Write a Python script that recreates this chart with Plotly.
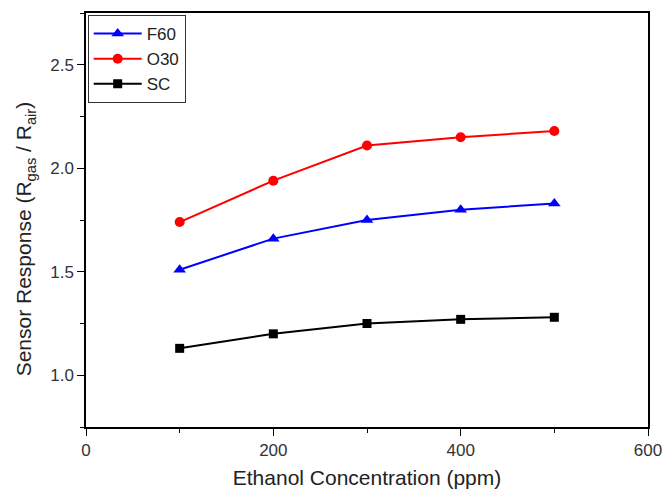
import plotly.graph_objects as go

conc = [100, 200, 300, 400, 500]
f60 = [1.51, 1.66, 1.75, 1.80, 1.83]
o30 = [1.74, 1.94, 2.11, 2.15, 2.18]
sc = [1.13, 1.20, 1.25, 1.27, 1.28]

fig = go.Figure()
fig.add_trace(go.Scatter(x=conc, y=f60, name="F60", mode="lines+markers",
                         line=dict(color="#0000ff", width=2),
                         marker=dict(symbol="triangle-up", size=11, color="#0000ff")))
fig.add_trace(go.Scatter(x=conc, y=o30, name="O30", mode="lines+markers",
                         line=dict(color="#ff0000", width=2),
                         marker=dict(symbol="circle", size=10, color="#ff0000")))
fig.add_trace(go.Scatter(x=conc, y=sc, name="SC", mode="lines+markers",
                         line=dict(color="#000000", width=2),
                         marker=dict(symbol="square", size=9, color="#000000")))

axis_common = dict(showline=True, linecolor="black", linewidth=1.5, mirror=True,
                   ticks="outside", ticklen=7, tickcolor="black", showgrid=False,
                   zeroline=False, tickfont=dict(size=17, color="#333"),
                   automargin=False)

fig.update_xaxes(range=[0, 600], dtick=200, tick0=0,
                 minor=dict(ticks="outside", ticklen=4, dtick=100, tickcolor="black"),
                 title=dict(text="Ethanol Concentration (ppm)", font=dict(size=21, color="#222"), standoff=12),
                 **axis_common)
fig.update_yaxes(range=[0.75, 2.75], dtick=0.5, tick0=0, tickformat=".1f",
                 minor=dict(ticks="outside", ticklen=4, dtick=0.25, tickcolor="black"),
                 **axis_common)

fig.add_annotation(text="Sensor Response (R<sub>gas</sub> / R<sub>air</sub>)",
                   xref="paper", yref="paper", x=-0.109, y=0.455,
                   xanchor="center", yanchor="middle", textangle=-90,
                   showarrow=False, font=dict(size=21, color="#222"))

fig.update_layout(
    width=663, height=489,
    margin=dict(l=86, r=15, t=13, b=62),
    paper_bgcolor="white", plot_bgcolor="white",
    font=dict(family="Liberation Sans, Arial, sans-serif", color="#222"),
    showlegend=True,
    legend=dict(x=0.003, y=0.995, xanchor="left", yanchor="top",
                bordercolor="#333", borderwidth=1, bgcolor="white",
                font=dict(size=17, color="#222"), tracegroupgap=0,
                itemwidth=48),
)

fig.write_html("out.html", config={"displayModeBar": False},
               post_script="document.body.style.margin='0';document.body.style.padding='0';")
